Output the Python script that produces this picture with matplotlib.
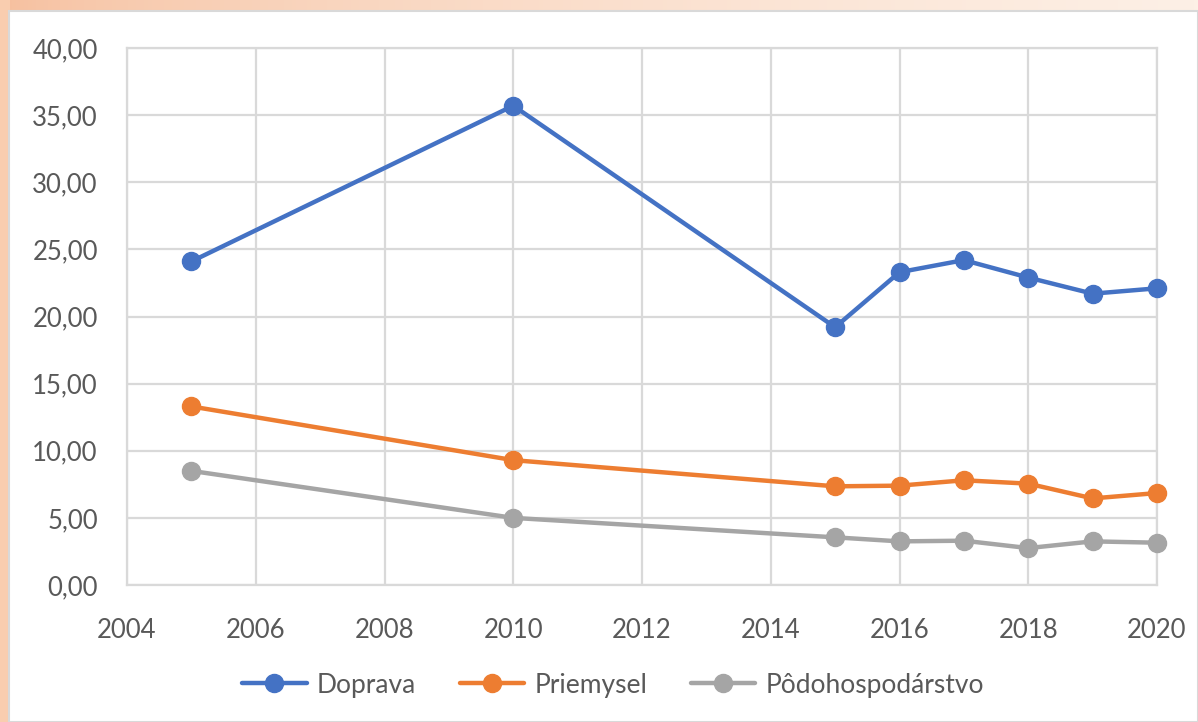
import numpy as np
import matplotlib
matplotlib.use("Agg")
import matplotlib.pyplot as plt
from matplotlib.ticker import FuncFormatter, MultipleLocator
from matplotlib.patches import Rectangle

# data
roky = [2005, 2010, 2015, 2016, 2017, 2018, 2019, 2020]
doprava = [24.1, 35.7, 19.2, 23.3, 24.2, 22.9, 21.7, 22.1]
priemysel = [13.3, 9.3, 7.35, 7.4, 7.8, 7.55, 6.45, 6.85]
podohospodarstvo = [8.5, 5.0, 3.55, 3.25, 3.3, 2.75, 3.25, 3.15]

nazvy = ["Doprava", "Priemysel", "Pôdohospodárstvo"]
farby = ["#4472C4", "#ED7D31", "#A5A5A5"]

plt.rcParams['font.family'] = ['Lato', 'DejaVu Sans']

fig = plt.figure(figsize=(11.98, 7.22), dpi=100)
W, H = 1198, 722

# peach slide background behind the chart
bg = fig.add_axes([0, 0, 1, 1], zorder=-10)
bg.set_axis_off()
xs = np.linspace(0, 1, 300)
c0 = np.array([246, 190, 156]) / 255.0
c1 = np.array([253, 240, 230]) / 255.0
grad = c0[None, :] * (1 - xs[:, None] ** 0.6) + c1[None, :] * xs[:, None] ** 0.6
bg.imshow(grad[None, :, :], aspect='auto', extent=[0, 1, 0, 1])
left_band = np.array([249, 205, 175]) / 255.0
bg.add_patch(Rectangle((0, 0), 10 / W, 1, color=left_band, lw=0))
bg.add_patch(Rectangle((9 / W, 0), 1 - 9 / W, 1 - 11 / H,
                       facecolor='white', edgecolor='#D9D9D9', lw=1.5))
bg.set_xlim(0, 1)
bg.set_ylim(0, 1)

ax = fig.add_axes([127 / W, 1 - 585 / H, (1157 - 127) / W, (585 - 48) / H])
ax.set_facecolor('white')

for y, name, c in zip([doprava, priemysel, podohospodarstvo], nazvy, farby):
    ax.plot(roky, y, color=c, lw=3.2, marker='o', markersize=13,
            label=name, solid_capstyle='round', zorder=3, clip_on=False)

ax.set_xlim(2004, 2020)
ax.set_ylim(0, 40)
ax.xaxis.set_major_locator(MultipleLocator(2))
ax.yaxis.set_major_locator(MultipleLocator(5))
ax.yaxis.set_major_formatter(FuncFormatter(lambda v, p: f"{v:.2f}".replace('.', ',')))
ax.grid(True, color='#D9D9D9', lw=1.6)
ax.set_axisbelow(True)
for s in ax.spines.values():
    s.set_color('#D9D9D9')
    s.set_linewidth(1.6)
ax.tick_params(length=0, labelsize=18.5, labelcolor='#595959')
ax.tick_params(axis='x', pad=24)
ax.tick_params(axis='y', pad=21)

fig.legend(loc='center', bbox_to_anchor=(613 / W, 1 - 685 / H), ncol=3,
           frameon=False, fontsize=19, labelcolor='#595959',
           handlelength=2.45, columnspacing=1.65, handletextpad=0.38)

fig.savefig('out.png', dpi=100)
